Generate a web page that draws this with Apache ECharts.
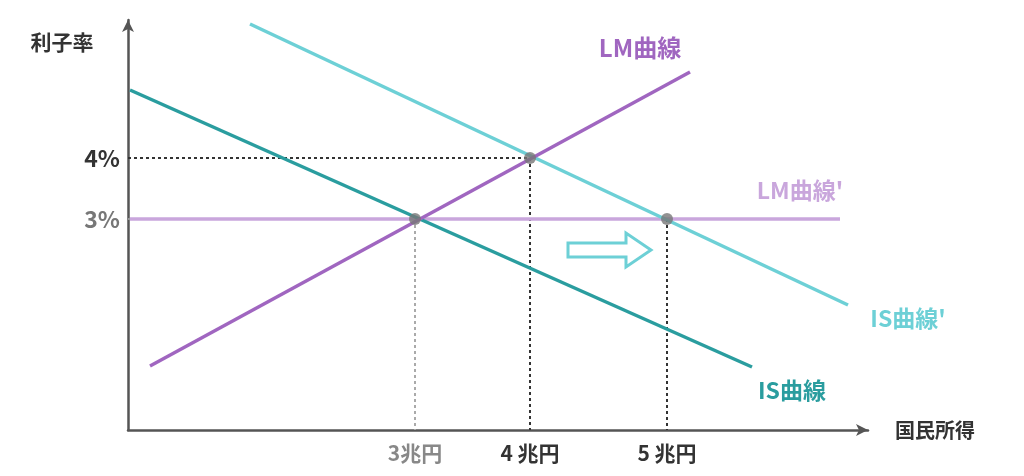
<!DOCTYPE html><html><head><meta charset="utf-8">
<script src="https://cdn.jsdelivr.net/npm/echarts@6/dist/echarts.min.js"></script>
<style>html,body{margin:0;background:#fff}#c{width:1024px;height:476px}</style></head><body><div id="c"></div>
<script>
const IS=[[2,340],[624,63]];
const ISp=[[122,406],[720,125]];
const LM=[[22,64],[562,358]];
const LMp=[[2,211],[712,211]];
const points=[[287,211],[402,272],[539,211]];
const yTicks=[{v:272,t:'4%',c:'#333'},{v:211,t:'3%',c:'#777'}];
const xTicks=[{v:287,t:'3兆円',c:'#888'},{v:402,t:'4 兆円',c:'#333'},{v:539,t:'5 兆円',c:'#333'}];
const ch=echarts.init(document.getElementById('c'));
const F='"Noto Sans CJK JP","Noto Sans",sans-serif';
const dot=(d,c)=>({type:'line',data:d,symbol:'none',lineStyle:{color:c,width:2,type:[3,3]},z:1});
const ln=(d,c)=>({type:'line',data:d,symbol:'none',lineStyle:{color:c,width:3.5},z:2});
ch.setOption({animation:false,
grid:{left:128,top:20,width:740,height:410},
xAxis:{type:'value',min:0,max:740,axisLine:{lineStyle:{color:'#555',width:2.5},symbol:['none','arrow'],symbolSize:[9,12]},axisLabel:{show:false},axisTick:{show:false},splitLine:{show:false}},
yAxis:{type:'value',min:0,max:410,axisLine:{show:true,lineStyle:{color:'#555',width:2.5},symbol:['none','arrow'],symbolSize:[9,12]},axisLabel:{show:false},axisTick:{show:false},splitLine:{show:false}},
series:[
dot([[0,272],[402,272]],'#333'),dot([[402,272],[402,0]],'#333'),
dot([[0,211],[287,211]],'#999'),dot([[287,211],[287,0]],'#aaa'),dot([[539,211],[539,0]],'#333'),
ln(LMp,'#c9a6dc'),ln(IS,'#2a9d9f'),ln(ISp,'#6dd0d6'),ln(LM,'#a066c0'),
{type:'scatter',data:points,symbolSize:12,itemStyle:{color:'#777'},z:5}
]});
const p=(x,y)=>ch.convertToPixel({gridIndex:0},[x,y]);
const g=[];
const txt=(x,y,t,c,s,al)=>g.push({type:'text',x,y,style:{text:t,fill:c,font:'bold '+(s||20)+'px '+F,align:al||'center',verticalAlign:'middle'}});
yTicks.forEach(o=>{const q=p(0,o.v);txt(q[0]-8,q[1],o.t,o.c,23,'right');});
xTicks.forEach(o=>{const q=p(o.v,0);txt(q[0],q[1]+23,o.t,o.c,21);});
txt(62,42,'利子率','#333',21);txt(935,430,'国民所得','#333',20);
txt(640,48,'LM曲線','#a066c0',24);txt(800,190,"LM曲線'",'#c9a6dc',23);
txt(908,318,"IS曲線'",'#6dd0d6',23);txt(792,390,'IS曲線','#2a9d9f',23);
const a=p(440,180);
g.push({type:'polygon',x:a[0],y:a[1],shape:{points:[[0,-7],[58,-7],[58,-17],[83,0],[58,17],[58,7],[0,7]]},style:{fill:'#fff',stroke:'#6dd0d6',lineWidth:3}});
ch.setOption({graphic:g});
</script></body></html>
